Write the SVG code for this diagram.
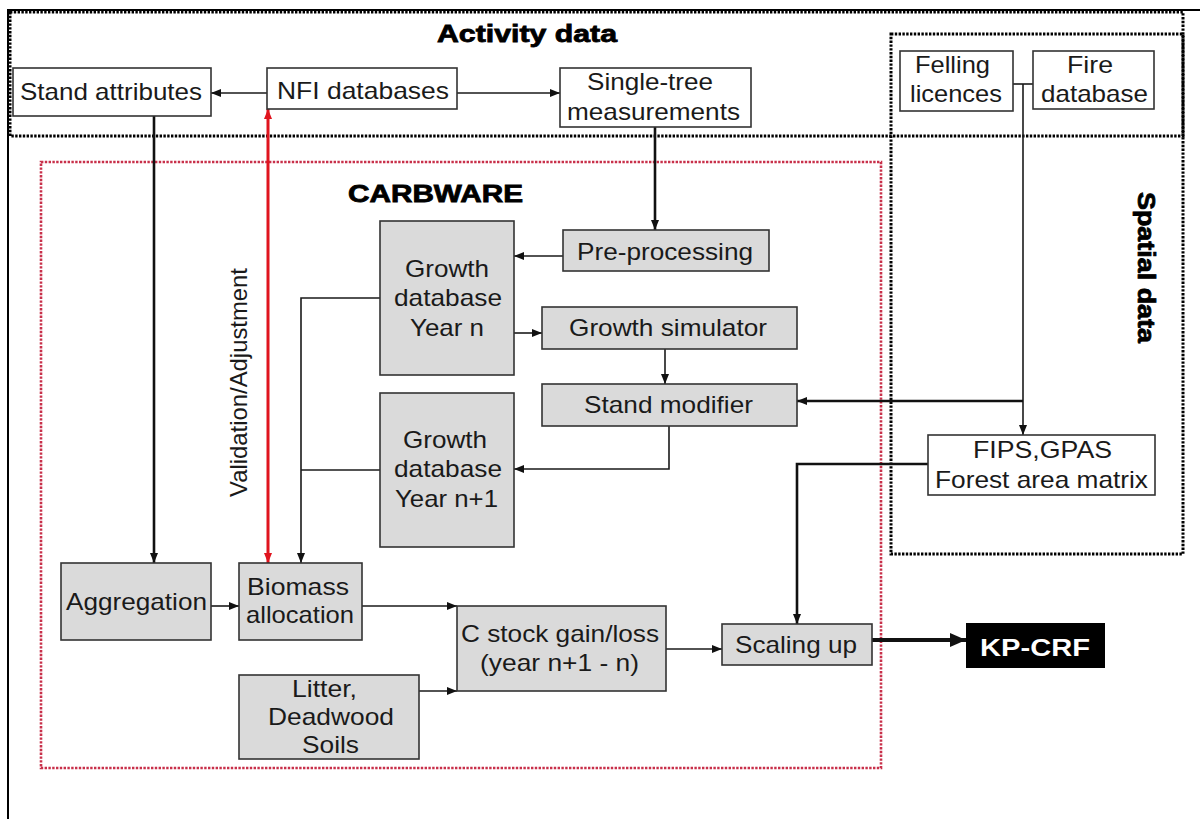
<svg xmlns="http://www.w3.org/2000/svg" width="1200" height="819" viewBox="0 0 1200 819">
<style>
text{font-family:"Liberation Sans",Arial,sans-serif;font-size:24px;fill:#1a1a1a;text-anchor:middle}
.t{font-weight:bold;fill:#000;stroke:#000;stroke-width:0.8}
.w{fill:#fff;stroke:#333;stroke-width:1.6}
.g{fill:#dadada;stroke:#333;stroke-width:1.6}
.c{fill:none;stroke:#1a1a1a;stroke-width:1.6}
.k{fill:none;stroke:#111;stroke-width:2.6}
.dot{fill:none;stroke:#000;stroke-width:3;stroke-dasharray:2.4 1.4}
.rdot{fill:none;stroke:#c8304a;stroke-width:2.6;stroke-dasharray:2.4 1.4}
</style>
<defs>
<marker id="a" markerUnits="userSpaceOnUse" markerWidth="10" markerHeight="10" viewBox="0 0 10 10" refX="10" refY="5" orient="auto"><path d="M0,1 L10,5 L0,9 z" fill="#111"/></marker>
<marker id="ab" markerUnits="userSpaceOnUse" markerWidth="16" markerHeight="16" viewBox="0 0 16 16" refX="16" refY="8" orient="auto"><path d="M0,1 L16,8 L0,15 z" fill="#111"/></marker>
<marker id="ar" markerUnits="userSpaceOnUse" markerWidth="10" markerHeight="10" viewBox="0 0 10 10" refX="10" refY="5" orient="auto-start-reverse"><path d="M0,1 L10,5 L0,9 z" fill="#e0141e"/></marker>
</defs>

<g id="frame">
<path d="M8,819 V10 H1200" fill="none" stroke="#000" stroke-width="2"/>
<rect class="dot" x="10" y="12" width="1173" height="124"/>
<rect class="dot" x="891" y="34" width="292" height="520"/>
<rect class="rdot" x="41" y="162" width="840" height="606"/>
<text class="t" x="527" y="42" textLength="180" lengthAdjust="spacingAndGlyphs">Activity data</text>
<text class="t" x="435.5" y="202" textLength="175" lengthAdjust="spacingAndGlyphs">CARBWARE</text>
<text class="t" font-size="27" transform="translate(1138,267.5) rotate(90)" x="0" y="0" textLength="151" lengthAdjust="spacingAndGlyphs">Spatial data</text>
<text transform="translate(247,382.5) rotate(-90)" x="0" y="0" textLength="229" lengthAdjust="spacingAndGlyphs">Validation/Adjustment</text>
</g>

<g id="connectors">
<path class="c" d="M267,93 H211" marker-end="url(#a)"/>
<path class="c" d="M457,93 H560" marker-end="url(#a)"/>
<path d="M268,109 V563" fill="none" stroke="#e0141e" stroke-width="3" marker-start="url(#ar)" marker-end="url(#ar)"/>
<path class="k" d="M154,116 V563" marker-end="url(#a)"/>
<path class="k" d="M655,127 V230" marker-end="url(#a)"/>
<path class="c" d="M563,256 H514" marker-end="url(#a)"/>
<path class="c" d="M514,333 H542" marker-end="url(#a)"/>
<path class="c" d="M665,349 V384" marker-end="url(#a)"/>
<path class="c" d="M669,426 V469 H514" marker-end="url(#a)"/>
<path class="c" d="M380,298 H301 V563" marker-end="url(#a)"/>
<path class="c" d="M380,470 H301"/>
<path class="c" d="M1013,84 H1033"/>
<path class="c" d="M1023,84 V435" marker-end="url(#a)"/>
<path class="k" d="M1023,401 H797" marker-end="url(#a)"/>
<path class="k" d="M928,464 H797 V624" marker-end="url(#a)"/>
<path class="c" d="M211,606 H239" marker-end="url(#a)"/>
<path class="c" d="M362,606 H457" marker-end="url(#a)"/>
<path class="c" d="M419,691 H457" marker-end="url(#a)"/>
<path class="c" d="M666,649 H722" marker-end="url(#a)"/>
<path d="M872,640 H966" fill="none" stroke="#111" stroke-width="4" marker-end="url(#ab)"/>
</g>

<g id="stand-attributes">
<rect class="w" x="13" y="68" width="198" height="48"/>
<text x="111" y="100" textLength="182" lengthAdjust="spacingAndGlyphs">Stand attributes</text>
</g>
<g id="nfi-databases">
<rect class="w" x="267" y="68" width="190" height="41"/>
<text x="363" y="99" textLength="172" lengthAdjust="spacingAndGlyphs">NFI databases</text>
</g>
<g id="single-tree">
<rect class="w" x="560" y="68" width="191" height="59"/>
<text x="650" y="90" textLength="126" lengthAdjust="spacingAndGlyphs">Single-tree</text>
<text x="653.5" y="120" textLength="173" lengthAdjust="spacingAndGlyphs">measurements</text>
</g>
<g id="felling-licences">
<rect class="w" x="900" y="51" width="113" height="60"/>
<text x="952.5" y="73" textLength="75" lengthAdjust="spacingAndGlyphs">Felling</text>
<text x="956" y="102" textLength="92" lengthAdjust="spacingAndGlyphs">licences</text>
</g>
<g id="fire-database">
<rect class="w" x="1033" y="51" width="121" height="58"/>
<text x="1090" y="73" textLength="46" lengthAdjust="spacingAndGlyphs">Fire</text>
<text x="1094.5" y="102" textLength="107" lengthAdjust="spacingAndGlyphs">database</text>
</g>
<g id="pre-processing">
<rect class="g" x="563" y="230" width="206" height="41"/>
<text x="665" y="260" textLength="176" lengthAdjust="spacingAndGlyphs">Pre-processing</text>
</g>
<g id="growth-db-n">
<rect class="g" x="380" y="221" width="134" height="154"/>
<text x="447" y="277" textLength="84" lengthAdjust="spacingAndGlyphs">Growth</text>
<text x="448" y="306" textLength="108" lengthAdjust="spacingAndGlyphs">database</text>
<text x="447" y="336" textLength="74" lengthAdjust="spacingAndGlyphs">Year n</text>
</g>
<g id="growth-simulator">
<rect class="g" x="542" y="307" width="255" height="42"/>
<text x="668" y="336" textLength="198" lengthAdjust="spacingAndGlyphs">Growth simulator</text>
</g>
<g id="stand-modifier">
<rect class="g" x="542" y="384" width="255" height="42"/>
<text x="668.5" y="413" textLength="169" lengthAdjust="spacingAndGlyphs">Stand modifier</text>
</g>
<g id="growth-db-n1">
<rect class="g" x="380" y="393" width="134" height="154"/>
<text x="445" y="448" textLength="84" lengthAdjust="spacingAndGlyphs">Growth</text>
<text x="448" y="477" textLength="108" lengthAdjust="spacingAndGlyphs">database</text>
<text x="446.5" y="507" textLength="103" lengthAdjust="spacingAndGlyphs">Year n+1</text>
</g>
<g id="fips-gpas">
<rect class="w" x="928" y="435" width="227" height="60"/>
<text x="1042.5" y="458" textLength="139" lengthAdjust="spacingAndGlyphs">FIPS,GPAS</text>
<text x="1041.5" y="488" textLength="213" lengthAdjust="spacingAndGlyphs">Forest area matrix</text>
</g>
<g id="aggregation">
<rect class="g" x="61" y="563" width="150" height="77"/>
<text x="136.5" y="610" textLength="141" lengthAdjust="spacingAndGlyphs">Aggregation</text>
</g>
<g id="biomass-allocation">
<rect class="g" x="239" y="563" width="123" height="77"/>
<text x="298" y="595" textLength="102" lengthAdjust="spacingAndGlyphs">Biomass</text>
<text x="300" y="623" textLength="108" lengthAdjust="spacingAndGlyphs">allocation</text>
</g>
<g id="litter">
<rect class="g" x="239" y="675" width="180" height="84"/>
<text x="324.5" y="697" textLength="65" lengthAdjust="spacingAndGlyphs">Litter,</text>
<text x="331" y="725" textLength="126" lengthAdjust="spacingAndGlyphs">Deadwood</text>
<text x="330.5" y="753" textLength="57" lengthAdjust="spacingAndGlyphs">Soils</text>
</g>
<g id="c-stock">
<rect class="g" x="457" y="606" width="209" height="85"/>
<text x="560" y="642" textLength="198" lengthAdjust="spacingAndGlyphs">C stock gain/loss</text>
<text x="559.5" y="671" textLength="159" lengthAdjust="spacingAndGlyphs">(year n+1 - n)</text>
</g>
<g id="scaling-up">
<rect class="g" x="722" y="624" width="150" height="41"/>
<text x="796" y="653" textLength="122" lengthAdjust="spacingAndGlyphs">Scaling up</text>
</g>
<g id="kp-crf">
<rect x="966" y="623" width="139" height="45" fill="#000"/>
<text x="1035" y="656" font-size="26" font-weight="bold" style="fill:#fff" textLength="110" lengthAdjust="spacingAndGlyphs">KP-CRF</text>
</g>
</svg>
